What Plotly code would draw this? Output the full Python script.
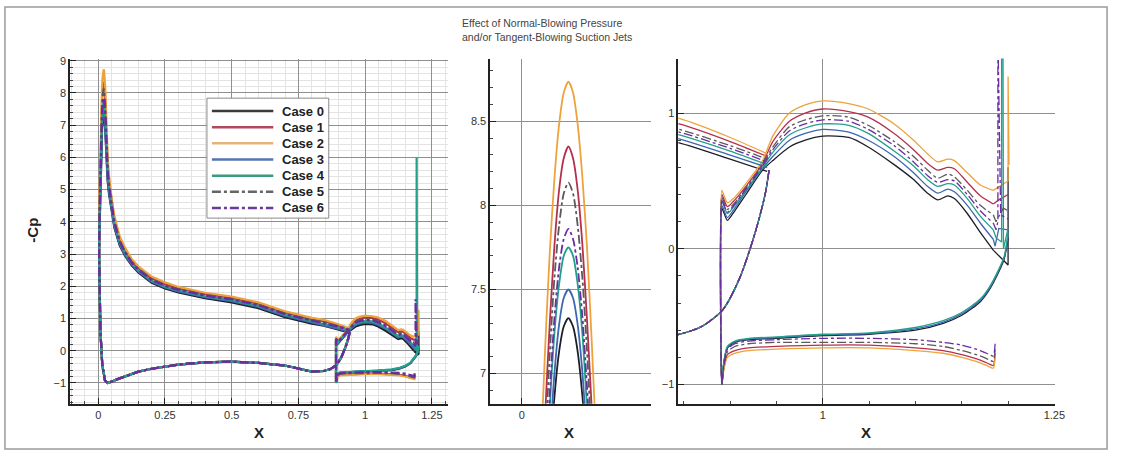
import plotly.graph_objects as go

W, H = 1125, 454

CASES = ["Case 0", "Case 1", "Case 2", "Case 3", "Case 4", "Case 5", "Case 6"]
LINE_COLORS = ["#1e1e2a", "#b5304e", "#eea23c", "#3f66b0", "#22a08a", "#5a5a5a", "#6b2ba3"]
LEGEND_COLORS = ["#3a3a3a", "#b0485f", "#e6b27a", "#5673b0", "#3a9c7e", "#666666", "#6a3a9a"]
LINE_DASH = ["solid", "solid", "solid", "solid", "solid", "dashdot", "dashdot"]

# main element, lower surface (trailing edge -> leading edge), same for all cases
MAIN_LOWER_X = [0.942, 0.938, 0.927, 0.910, 0.892, 0.870, 0.845, 0.800, 0.700, 0.600, 0.500, 0.400,
                0.300, 0.200, 0.150, 0.100, 0.070, 0.050, 0.035, 0.025, 0.015, 0.008, 0.005, 0.003]
MAIN_LOWER_Y = [0.58, 0.41, 0.12, -0.22, -0.45, -0.57, -0.63, -0.65, -0.46, -0.38, -0.34, -0.36,
                -0.43, -0.56, -0.65, -0.79, -0.89, -0.96, -1.0, -0.92, -0.45, 0.6, 1.8, 3.0]

# main element, upper surface (leading edge -> trailing edge)
MAIN_UPPER_X = [0.004, 0.006, 0.008, 0.010, 0.012, 0.014, 0.016, 0.018, 0.020, 0.022, 0.024, 0.026,
                0.028, 0.030, 0.032, 0.035, 0.040, 0.050, 0.060, 0.080, 0.100, 0.125, 0.150, 0.200,
                0.250, 0.300, 0.400, 0.500, 0.600, 0.700, 0.800, 0.845, 0.900, 0.940]
MAIN_UPPER_Y = [
    [3.5, 4.4, 5.2, 5.9, 6.45, 6.86, 7.13, 7.28, 7.33, 7.28, 7.13, 6.87, 6.5, 6.08, 5.68, 5.28, 4.88,
     4.27, 3.83, 3.27, 2.95, 2.65, 2.43, 2.11, 1.93, 1.81, 1.63, 1.5, 1.32, 1.04, 0.84, 0.78, 0.66, 0.57],
    [4.3, 5.2, 6.0, 6.75, 7.3, 7.76, 8.09, 8.28, 8.35, 8.28, 8.09, 7.77, 7.32, 6.8, 6.3, 5.8, 5.3,
     4.6, 4.1, 3.47, 3.13, 2.8, 2.57, 2.25, 2.07, 1.94, 1.76, 1.64, 1.46, 1.18, 0.98, 0.92, 0.79, 0.68],
    [4.6, 5.6, 6.45, 7.15, 7.72, 8.16, 8.48, 8.67, 8.735, 8.67, 8.48, 8.17, 7.75, 7.2, 6.6, 6.0, 5.45,
     4.7, 4.2, 3.55, 3.2, 2.85, 2.62, 2.3, 2.12, 1.98, 1.8, 1.68, 1.5, 1.22, 1.02, 0.96, 0.82, 0.70],
    [3.6, 4.5, 5.3, 6.0, 6.57, 7.0, 7.29, 7.45, 7.50, 7.45, 7.29, 7.01, 6.6, 6.18, 5.78, 5.37, 4.95,
     4.33, 3.88, 3.31, 2.98, 2.68, 2.46, 2.14, 1.96, 1.84, 1.66, 1.54, 1.36, 1.08, 0.88, 0.81, 0.69, 0.60],
    [3.8, 4.7, 5.5, 6.2, 6.8, 7.24, 7.53, 7.7, 7.75, 7.7, 7.53, 7.24, 6.8, 6.35, 5.92, 5.48, 5.04,
     4.4, 3.94, 3.35, 3.02, 2.71, 2.49, 2.17, 1.99, 1.87, 1.69, 1.57, 1.39, 1.11, 0.91, 0.84, 0.72, 0.62],
    [4.1, 5.0, 5.8, 6.55, 7.12, 7.57, 7.88, 8.07, 8.135, 8.07, 7.88, 7.57, 7.14, 6.62, 6.15, 5.68, 5.2,
     4.52, 4.04, 3.42, 3.09, 2.76, 2.54, 2.22, 2.04, 1.91, 1.73, 1.61, 1.43, 1.15, 0.95, 0.88, 0.76, 0.66],
    [3.9, 4.8, 5.6, 6.3, 6.88, 7.33, 7.63, 7.8, 7.86, 7.8, 7.63, 7.34, 6.92, 6.45, 6.0, 5.55, 5.1,
     4.45, 3.98, 3.38, 3.05, 2.73, 2.51, 2.19, 2.01, 1.89, 1.71, 1.59, 1.41, 1.13, 0.93, 0.86, 0.74, 0.64],
]

# flap, upper surface (leading edge -> trailing edge)
FLAP_UPPER_X = [0.891, 0.893, 0.897, 0.905, 0.917, 0.935, 0.946, 0.964, 0.981, 1.000, 1.028, 1.049,
                1.077, 1.098, 1.113, 1.124, 1.135, 1.142, 1.156, 1.170, 1.184]
FLAP_UPPER_Y = [
    [0.30, 0.27, 0.21, 0.28, 0.40, 0.58, 0.65, 0.75, 0.80, 0.83, 0.82, 0.75, 0.62, 0.51, 0.41, 0.36, 0.39, 0.37, 0.26, 0.12, -0.01],
    [0.40, 0.37, 0.31, 0.36, 0.46, 0.63, 0.79, 0.94, 1.00, 1.03, 1.01, 0.97, 0.85, 0.73, 0.63, 0.58, 0.60, 0.59, 0.49, 0.39, 0.33],
    [0.43, 0.40, 0.34, 0.38, 0.48, 0.65, 0.83, 1.00, 1.06, 1.09, 1.07, 1.03, 0.92, 0.80, 0.70, 0.64, 0.66, 0.65, 0.56, 0.47, 0.43],
    [0.32, 0.29, 0.23, 0.30, 0.42, 0.59, 0.68, 0.80, 0.85, 0.88, 0.86, 0.80, 0.68, 0.56, 0.46, 0.41, 0.44, 0.42, 0.32, 0.19, 0.07],
    [0.35, 0.32, 0.26, 0.32, 0.43, 0.60, 0.71, 0.84, 0.89, 0.92, 0.91, 0.85, 0.72, 0.61, 0.51, 0.46, 0.48, 0.47, 0.37, 0.24, 0.14],
    [0.38, 0.35, 0.29, 0.34, 0.45, 0.62, 0.75, 0.90, 0.95, 0.98, 0.97, 0.91, 0.79, 0.68, 0.58, 0.52, 0.55, 0.53, 0.43, 0.32, 0.25],
    [0.36, 0.33, 0.27, 0.33, 0.44, 0.61, 0.73, 0.87, 0.92, 0.95, 0.94, 0.88, 0.76, 0.64, 0.54, 0.49, 0.51, 0.50, 0.40, 0.28, 0.19],
]

# flap, lower surface (leading edge -> trailing edge)
FLAP_LOWER_SHORT_X = [0.891, 0.893, 0.897, 0.905, 0.920, 0.950, 1.000, 1.050, 1.100, 1.130, 1.150, 1.170, 1.180, 1.184]
FLAP_LOWER_LONG_X = [0.891, 0.893, 0.897, 0.905, 0.920, 0.950, 1.000, 1.050, 1.100, 1.130, 1.150, 1.170, 1.180, 1.190, 1.196, 1.200]
FLAP_LOWER_Y = [
    [-1.0, -0.85, -0.73, -0.69, -0.67, -0.66, -0.64, -0.63, -0.60, -0.55, -0.49, -0.39, -0.30, -0.17, -0.07, 0.08],
    [-1.0, -0.89, -0.78, -0.75, -0.73, -0.72, -0.71, -0.71, -0.73, -0.75, -0.78, -0.82, -0.85, -0.86],
    [-1.0, -0.90, -0.80, -0.77, -0.75, -0.74, -0.73, -0.73, -0.75, -0.77, -0.80, -0.84, -0.87, -0.88],
    [-1.0, -0.845, -0.725, -0.685, -0.665, -0.655, -0.635, -0.625, -0.59, -0.54, -0.48, -0.38, -0.29, -0.16, -0.06, 0.10],
    [-1.0, -0.84, -0.72, -0.68, -0.66, -0.65, -0.63, -0.62, -0.58, -0.53, -0.47, -0.37, -0.28, -0.15, -0.05, 0.12],
    [-1.0, -0.88, -0.76, -0.72, -0.70, -0.69, -0.69, -0.69, -0.70, -0.72, -0.75, -0.79, -0.82, -0.83],
    [-1.0, -0.86, -0.74, -0.70, -0.68, -0.67, -0.66, -0.66, -0.67, -0.69, -0.71, -0.75, -0.78, -0.79],
]

# hook before the flap lower trailing edge, and jet / trailing-edge points after the upper surface
FLAP_START_X = [[], [1.186], [1.186], [], [], [1.186], [1.186]]
FLAP_START_Y = [[], [-0.77], [-0.80], [], [], [-0.74], [-0.70]]
FLAP_TE_X = [[1.195, 1.2, 1.2], [1.19, 1.2], [1.2, 1.2, 1.201], [1.186, 1.19, 1.2],
             [1.187, 1.193, 1.193, 1.195, 1.2], [1.187, 1.195, 1.2], [1.187, 1.189, 1.189, 1.192, 1.2]]
FLAP_TE_Y = [[-0.09, -0.12, 0.6], [0.36, 0.40], [0.5, 1.27, 0.62], [0.02, 0.15, 0.14],
             [0.08, 0.05, 6.0, 0.0, 0.15], [0.2, 0.3, 0.28], [0.14, 0.2, 1.6, 0.25, 0.22]]

TITLE_LINES = ["Effect of Normal-Blowing Pressure", "and/or Tangent-Blowing Suction Jets"]


def px(x):
    return x / W


def py(y):
    return 1 - y / H


fig = go.Figure()

# (x axis, y axis, line width, smooth?)
panels = [("x", "y", 2.2, False), ("x2", "y2", 1.8, True), ("x3", "y3", 1.3, True)]
for i in range(len(CASES)):
    main_x = MAIN_LOWER_X + MAIN_UPPER_X
    main_y = MAIN_LOWER_Y + MAIN_UPPER_Y[i]
    lower_x = FLAP_LOWER_LONG_X if len(FLAP_LOWER_Y[i]) == len(FLAP_LOWER_LONG_X) else FLAP_LOWER_SHORT_X
    flap_x = FLAP_START_X[i] + lower_x[::-1] + FLAP_UPPER_X
    flap_y = FLAP_START_Y[i] + FLAP_LOWER_Y[i][::-1] + FLAP_UPPER_Y[i]
    te_x = FLAP_UPPER_X[-1:] + FLAP_TE_X[i]
    te_y = FLAP_UPPER_Y[i][-1:] + FLAP_TE_Y[i]
    for xa, ya, lw, smooth in panels:
        for xs, ys, sm in ((main_x, main_y, smooth), (flap_x, flap_y, smooth), (te_x, te_y, False)):
            line = dict(color=LINE_COLORS[i], width=lw, dash=LINE_DASH[i])
            if sm:
                line.update(shape="spline", smoothing=0.7)
            fig.add_trace(go.Scatter(
                x=xs, y=ys, mode="lines", xaxis=xa, yaxis=ya, name=CASES[i],
                line=line, showlegend=False, hoverinfo="skip"))

TICKFONT = dict(family="Liberation Sans, Arial, sans-serif", size=11, color="#333333")


def axis(domain, rng, dtick, anchor, minor_dtick=None, minor_grid=False):
    d = dict(domain=domain, range=rng, anchor=anchor, dtick=dtick, tick0=0,
             showgrid=True, gridcolor="#8f8f8f", gridwidth=1,
             showline=True, linecolor="#222222", linewidth=1.5,
             ticks="inside", ticklen=6, tickwidth=1, tickcolor="#222222",
             zeroline=False, tickfont=TICKFONT, fixedrange=True)
    if minor_dtick is not None:
        d["minor"] = dict(dtick=minor_dtick, ticks="inside", ticklen=3, tickcolor="#444444",
                          showgrid=minor_grid, gridcolor="#e3e3e3", gridwidth=1)
    return d


ydom = [py(403.3), py(55)]
fig.update_layout(
    width=W, height=H, margin=dict(l=0, r=0, t=0, b=0),
    paper_bgcolor="white", plot_bgcolor="white", showlegend=False,
    xaxis=axis([px(70.7), px(452)], [-0.106, 1.309], 0.25, "y", 0.05, True),
    yaxis=axis(ydom, [-1.646, 9.07], 1, "x", 0.2, True),
    xaxis2=axis([px(495), px(657)], [-0.01362, 0.05532], 0.25, "y2"),
    yaxis2=axis(ydom, [6.821, 8.873], 0.5, "x2", 0.1, False),
    xaxis3=axis([px(685), px(1065)], [0.844, 1.2502], 0.25, "y3", 0.05, False),
    yaxis3=axis(ydom, [-1.142, 1.402], 1, "x3", 0.2, False),
)

shapes = [dict(type="rect", xref="paper", yref="paper", x0=px(5), x1=px(1118), y0=py(449), y1=py(3),
               line=dict(color="#9a9a9a", width=1.5), fillcolor="rgba(0,0,0,0)", layer="below")]
# legend box
shapes.append(dict(type="rect", xref="paper", yref="paper", x0=px(209), x1=px(332), y0=py(216), y1=py(95),
                   line=dict(color="#8a8a8a", width=1), fillcolor="white", layer="above"))
annotations = []
for i, name in enumerate(CASES):
    yy = 108 + 16.3 * i
    shapes.append(dict(type="line", xref="paper", yref="paper", x0=px(214), x1=px(276), y0=py(yy), y1=py(yy),
                       line=dict(color=LEGEND_COLORS[i], width=2.5, dash=LINE_DASH[i]), layer="above"))
    annotations.append(dict(xref="paper", yref="paper", x=px(283), y=py(yy), text=name, showarrow=False,
                            xanchor="left", yanchor="middle",
                            font=dict(family="Liberation Sans, Arial, sans-serif", size=13, color="#222222",
                                      weight="bold")))

TITLE_FONT = dict(family="Liberation Sans, Arial, sans-serif", size=15, color="#222222", weight="bold")
annotations.append(dict(xref="paper", yref="paper", x=px(33), y=py(228), text="-Cp", textangle=-90,
                        showarrow=False, xanchor="center", yanchor="middle", font=TITLE_FONT))
for xc in (262, 575, 875):
    annotations.append(dict(xref="paper", yref="paper", x=px(xc), y=py(432), text="X", showarrow=False,
                            xanchor="center", yanchor="middle", font=TITLE_FONT))
annotations.append(dict(xref="paper", yref="paper", x=px(465), y=py(11), text="<br>".join(TITLE_LINES),
                        showarrow=False, xanchor="left", yanchor="top", align="left",
                        font=dict(family="Liberation Sans, Arial, sans-serif", size=10.5, color="#444444")))

fig.update_layout(shapes=shapes, annotations=annotations)
fig.write_html("out.html")
